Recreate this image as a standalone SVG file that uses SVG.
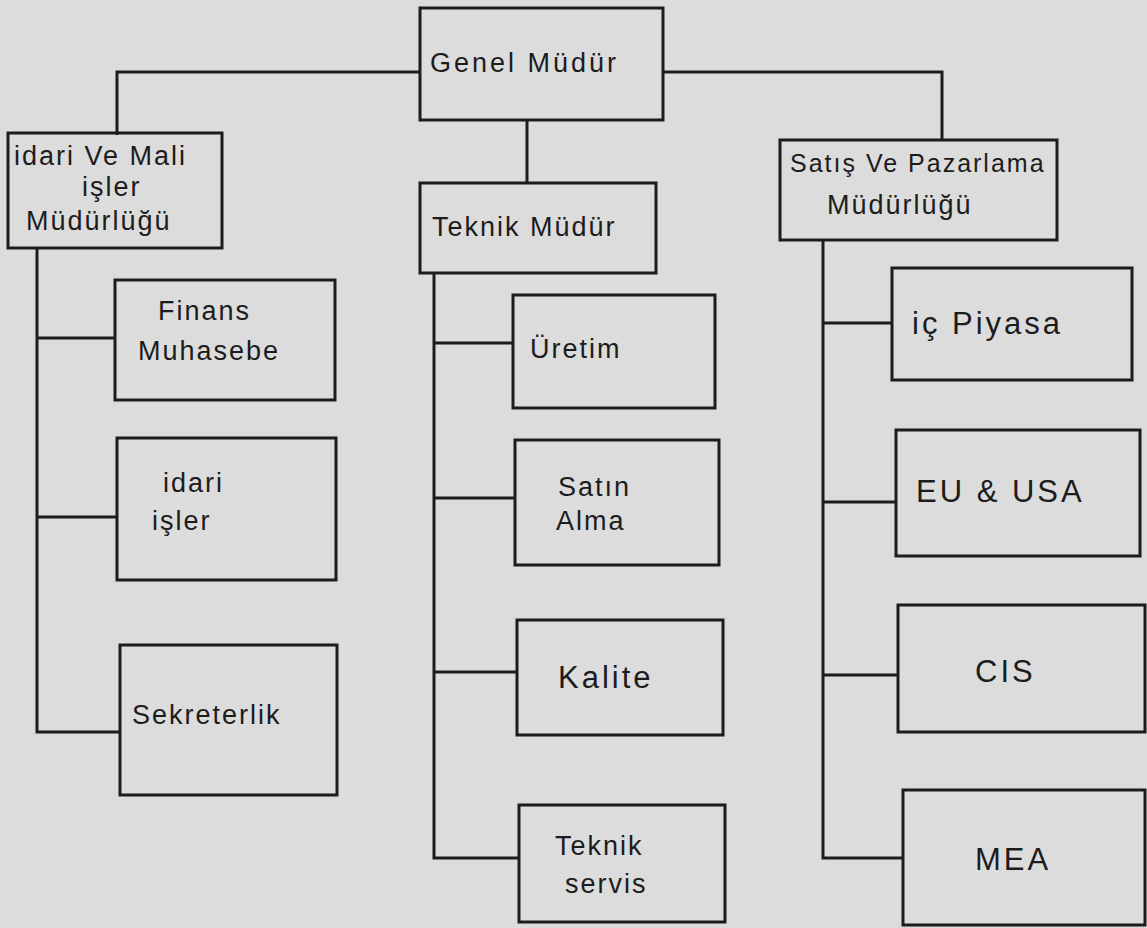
<svg xmlns="http://www.w3.org/2000/svg" width="1147" height="928" viewBox="0 0 1147 928">
<style>
.box{fill:none;stroke:#1c1c1c;stroke-width:3}
.ln{fill:none;stroke:#1c1c1c;stroke-width:3}
text{font-family:"Liberation Sans","DejaVu Sans",sans-serif;fill:#1c1c1c;font-size:27px;letter-spacing:2px}
.big{font-size:31px;letter-spacing:3px}
</style>
<rect width="1147" height="928" fill="#dcdcdc"/>
<g id="connectors">
<path class="ln" d="M420 72 H117 V135"/>
<path class="ln" d="M663 72 H942 V140"/>
<path class="ln" d="M527 120 V183"/>
<path class="ln" d="M37 248 V732 H120"/>
<path class="ln" d="M37 338 H115"/>
<path class="ln" d="M37 517 H117"/>
<path class="ln" d="M434 273 V858 H519"/>
<path class="ln" d="M434 343 H513"/>
<path class="ln" d="M434 498 H515"/>
<path class="ln" d="M434 672 H517"/>
<path class="ln" d="M823 240 V858 H903"/>
<path class="ln" d="M823 323 H892"/>
<path class="ln" d="M823 502 H896"/>
<path class="ln" d="M823 675 H898"/>
</g>
<g id="genel-mudur"><rect class="box" x="420" y="8" width="243" height="112"/><text x="430" y="72" style="letter-spacing:3px">Genel Müdür</text></g>
<g id="idari-mali"><rect class="box" x="8" y="133" width="214" height="115"/>
<text x="14" y="165">idari Ve Mali</text><text x="82" y="196">işler</text><text x="26" y="230">Müdürlüğü</text></g>
<g id="teknik-mudur"><rect class="box" x="420" y="183" width="236" height="90"/><text x="432" y="236">Teknik Müdür</text></g>
<g id="satis-pazarlama"><rect class="box" x="780" y="140" width="277" height="100"/>
<text x="790" y="172" style="font-size:25px;letter-spacing:2px">Satış Ve Pazarlama</text><text x="827" y="214">Müdürlüğü</text></g>
<g id="finans"><rect class="box" x="115" y="280" width="220" height="120"/><text x="158" y="320">Finans</text><text x="138" y="360">Muhasebe</text></g>
<g id="idari-isler"><rect class="box" x="117" y="438" width="219" height="142"/><text x="163" y="492">idari</text><text x="152" y="530">işler</text></g>
<g id="sekreterlik"><rect class="box" x="120" y="645" width="217" height="150"/><text x="132" y="724">Sekreterlik</text></g>
<g id="uretim"><rect class="box" x="513" y="295" width="202" height="113"/><text x="530" y="358">Üretim</text></g>
<g id="satin-alma"><rect class="box" x="515" y="440" width="204" height="125"/><text x="558" y="496">Satın</text><text x="556" y="530">Alma</text></g>
<g id="kalite"><rect class="box" x="517" y="620" width="206" height="115"/><text x="558" y="688" class="big">Kalite</text></g>
<g id="teknik-servis"><rect class="box" x="519" y="805" width="206" height="117"/><text x="555" y="855">Teknik</text><text x="565" y="893">servis</text></g>
<g id="ic-piyasa"><rect class="box" x="892" y="268" width="240" height="112"/><text x="912" y="334" class="big">iç Piyasa</text></g>
<g id="eu-usa"><rect class="box" x="896" y="430" width="244" height="126"/><text x="916" y="502" class="big">EU &amp; USA</text></g>
<g id="cis"><rect class="box" x="898" y="605" width="247" height="127"/><text x="975" y="682" class="big">CIS</text></g>
<g id="mea"><rect class="box" x="903" y="790" width="242" height="135"/><text x="975" y="870" class="big">MEA</text></g>
</svg>
